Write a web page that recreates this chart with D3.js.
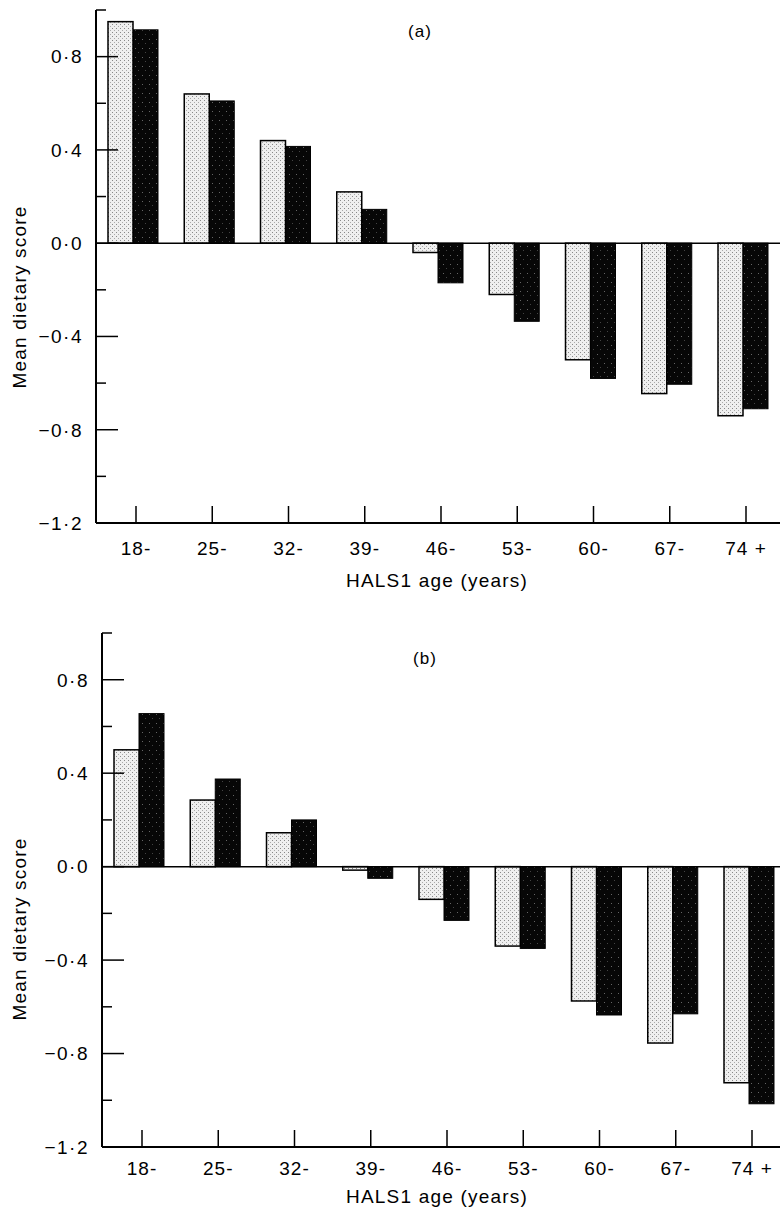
<!DOCTYPE html>
<html>
<head>
<meta charset="utf-8">
<script src="https://cdn.jsdelivr.net/npm/d3@7"></script>
<style>
  body { margin: 0; background: #fff; }
  svg { display: block; font-family: "Liberation Sans", Arial, sans-serif; }
</style>
</head>
<body>
<svg id="chart" width="780" height="1210"></svg>
<script>
// age groups at HALS1
var ageGroups = ["18-", "25-", "32-", "39-", "46-", "53-", "60-", "67-", "74 +"];

// panel (a): stippled bars, black bars
var panelA_light = [0.95, 0.64, 0.44, 0.22, -0.04, -0.22, -0.50, -0.645, -0.74];
var panelA_dark  = [0.915, 0.61, 0.415, 0.145, -0.17, -0.335, -0.58, -0.605, -0.71];

// panel (b)
var panelB_light = [0.50, 0.285, 0.145, -0.015, -0.14, -0.34, -0.575, -0.755, -0.925];
var panelB_dark  = [0.655, 0.375, 0.20, -0.05, -0.23, -0.35, -0.635, -0.63, -1.015];

var majorTicks = [-1.2, -0.8, -0.4, 0.0, 0.4, 0.8];
var minorTicks = [-1.0, -0.6, -0.2, 0.2, 0.6, 1.0];

var svg = d3.select('#chart');

// Fill patterns (stipple look)
var defs = svg.append('defs');
var pl = defs.append('pattern').attr('id', 'stipple-light')
    .attr('width', 4).attr('height', 4).attr('patternUnits', 'userSpaceOnUse');
pl.append('rect').attr('width', 4).attr('height', 4).attr('fill', '#efefef');
pl.append('rect').attr('x', 0).attr('y', 0).attr('width', 1).attr('height', 1).attr('fill', '#888');
pl.append('rect').attr('x', 2).attr('y', 2).attr('width', 1).attr('height', 1).attr('fill', '#aaa');

var pd = defs.append('pattern').attr('id', 'stipple-dark')
    .attr('width', 7).attr('height', 9).attr('patternUnits', 'userSpaceOnUse');
pd.append('rect').attr('width', 7).attr('height', 9).attr('fill', '#070707');
pd.append('rect').attr('x', 2).attr('y', 3).attr('width', 1).attr('height', 1).attr('fill', '#666');
pd.append('rect').attr('x', 5).attr('y', 7).attr('width', 1).attr('height', 1).attr('fill', '#444');

function fmt(v) {
    return d3.format('.1f')(v).replace('.', '\u00b7').replace('-', '\u2212');
}

function draw_panel(p) {
    var g = svg.append('g');
    var y = d3.scaleLinear().domain([-1.2, 1.0]).range([p.bottom, p.top]);
    var x = d3.scalePoint().domain(ageGroups).range([p.left + 40, p.left + 650]);
    var rightEdge = 780;
    var barW = 25;

    // bars
    var rows = ageGroups.map(function (a, i) {
        return { age: a, light: p.light[i], dark: p.dark[i] };
    });
    g.selectAll('rect.dark').data(rows).enter().append('rect')
        .attr('class', 'dark')
        .attr('x', function (d) { return x(d.age) - 3; })
        .attr('width', barW)
        .attr('y', function (d) { return Math.min(y(0), y(d.dark)); })
        .attr('height', function (d) { return Math.abs(y(d.dark) - y(0)); })
        .attr('fill', 'url(#stipple-dark)')
        .attr('stroke', '#000')
        .attr('stroke-width', 1);
    g.selectAll('rect.light').data(rows).enter().append('rect')
        .attr('class', 'light')
        .attr('x', function (d) { return x(d.age) - 3 - barW; })
        .attr('width', barW)
        .attr('y', function (d) { return Math.min(y(0), y(d.light)); })
        .attr('height', function (d) { return Math.abs(y(d.light) - y(0)); })
        .attr('fill', 'url(#stipple-light)')
        .attr('stroke', '#000')
        .attr('stroke-width', 1.5);

    // zero line
    g.append('line')
        .attr('x1', p.left).attr('x2', rightEdge)
        .attr('y1', y(0)).attr('y2', y(0))
        .attr('stroke', '#000').attr('stroke-width', 1.5);

    // y axis line
    g.append('line')
        .attr('x1', p.left).attr('x2', p.left)
        .attr('y1', p.top).attr('y2', p.bottom)
        .attr('stroke', '#000').attr('stroke-width', 2);

    // x axis line
    g.append('line')
        .attr('x1', p.left).attr('x2', rightEdge)
        .attr('y1', p.bottom).attr('y2', p.bottom)
        .attr('stroke', '#000').attr('stroke-width', 2);

    // y ticks drawn inward
    g.selectAll('line.major').data(majorTicks).enter().append('line')
        .attr('x1', p.left).attr('x2', p.left + 22)
        .attr('y1', function (d) { return y(d); })
        .attr('y2', function (d) { return y(d); })
        .attr('stroke', '#000').attr('stroke-width', 1.5);
    g.selectAll('line.minor').data(minorTicks).enter().append('line')
        .attr('x1', p.left).attr('x2', p.left + 10)
        .attr('y1', function (d) { return y(d); })
        .attr('y2', function (d) { return y(d); })
        .attr('stroke', '#000').attr('stroke-width', 1.5);
    g.selectAll('text.ylab').data(majorTicks).enter().append('text')
        .attr('x', p.left - 13)
        .attr('y', function (d) { return y(d); })
        .attr('dy', '0.36em')
        .attr('text-anchor', 'end')
        .attr('font-size', 19)
        .attr('letter-spacing', 1.5)
        .text(fmt);

    // x ticks pointing up
    g.selectAll('line.xtick').data(ageGroups).enter().append('line')
        .attr('x1', function (d) { return x(d); })
        .attr('x2', function (d) { return x(d); })
        .attr('y1', p.bottom).attr('y2', p.bottom - 17)
        .attr('stroke', '#000').attr('stroke-width', 1.5);
    g.selectAll('text.xlab').data(ageGroups).enter().append('text')
        .attr('x', function (d) { return x(d); })
        .attr('y', p.bottom + p.tickGap)
        .attr('text-anchor', 'middle')
        .attr('font-size', 19)
        .attr('letter-spacing', 1)
        .text(function (d) { return d; });

    // titles
    g.append('text')
        .attr('x', 437).attr('y', p.bottom + p.titleGap)
        .attr('text-anchor', 'middle')
        .attr('font-size', 19)
        .attr('letter-spacing', 1.2)
        .text('HALS1 age (years)');
    g.append('text')
        .attr('transform', 'translate(26,' + p.yTitleY + ') rotate(-90)')
        .attr('text-anchor', 'middle')
        .attr('font-size', 19)
        .attr('letter-spacing', 1.2)
        .text('Mean dietary score');
    g.append('text')
        .attr('x', p.labelX).attr('y', p.labelY)
        .attr('text-anchor', 'middle')
        .attr('font-size', 17)
        .attr('letter-spacing', 1)
        .text(p.label);
}

draw_panel({ left: 96, top: 10, bottom: 523, light: panelA_light, dark: panelA_dark,
             label: '(a)', labelX: 420, labelY: 37, tickGap: 32, titleGap: 64, yTitleY: 297 });
draw_panel({ left: 102, top: 633, bottom: 1147, light: panelB_light, dark: panelB_dark,
             label: '(b)', labelX: 425, labelY: 664, tickGap: 28, titleGap: 56, yTitleY: 929 });
</script>
</body>
</html>
